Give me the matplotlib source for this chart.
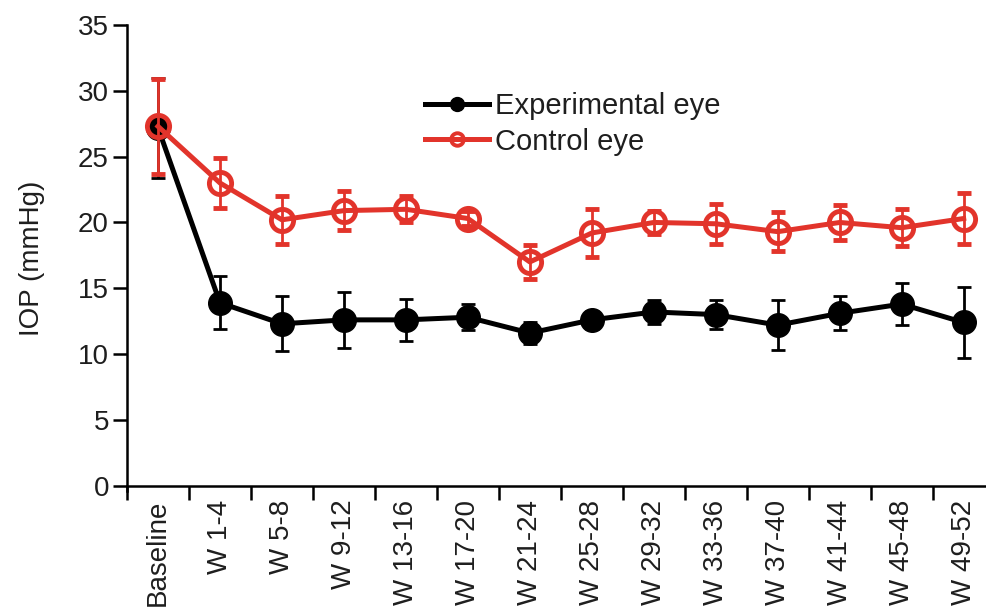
import numpy as np
import matplotlib
matplotlib.use("Agg")
import matplotlib.pyplot as plt
from matplotlib.lines import Line2D

plt.rcParams['font.family'] = ['Liberation Sans', 'DejaVu Sans']

# データ
labels = ["Baseline", "W 1-4", "W 5-8", "W 9-12", "W 13-16", "W 17-20", "W 21-24",
          "W 25-28", "W 29-32", "W 33-36", "W 37-40", "W 41-44", "W 45-48", "W 49-52"]
exp_mean = [27.2, 13.9, 12.3, 12.6, 12.6, 12.8, 11.6, 12.6, 13.2, 13.0, 12.2, 13.1, 13.8, 12.4]
exp_err = [3.8, 2.0, 2.1, 2.1, 1.6, 1.0, 0.8, 0.7, 0.9, 1.1, 1.9, 1.3, 1.6, 2.7]
ctl_mean = [27.3, 23.0, 20.2, 20.9, 21.0, 20.3, 17.0, 19.2, 20.0, 19.9, 19.3, 20.0, 19.6, 20.3]
ctl_err = [3.6, 1.9, 1.8, 1.5, 1.0, 0.6, 1.3, 1.8, 0.9, 1.5, 1.5, 1.3, 1.4, 1.9]

red = "#e2342b"
txt = "#1e1e1e"
fs = 20
x = np.arange(len(labels))

fig = plt.figure(figsize=(9.86, 6.11), dpi=100)
ax = fig.add_axes([0.1288, 0.1964, 0.880, 0.7627])

# 軸の設定（spineの位置を先に決める）
for s in ["top", "right"]:
    ax.spines[s].set_visible(False)
ax.spines["bottom"].set_position(("data", 0))
ax.spines["left"].set_linewidth(1.8)
ax.spines["bottom"].set_linewidth(1.8)

ax.errorbar(x, exp_mean, yerr=exp_err, color="black", lw=3.6, elinewidth=2,
            capsize=5, capthick=2, marker="o", ms=17, mfc="black", mec="black",
            zorder=3)
ax.errorbar(x, ctl_mean, yerr=ctl_err, color=red, lw=3.6, elinewidth=2,
            capsize=5, capthick=2, marker="o", ms=16, mfc="none", mec=red, mew=3.5,
            zorder=4)

ax.set_xlim(-0.5, len(labels) - 0.5)
ax.set_ylim(-0.4, 35)
ax.set_yticks(range(0, 36, 5))
ax.set_xticks(x)
ax.set_xticklabels(labels, rotation=90, fontsize=fs, color=txt)
ax.set_xticks(np.arange(-0.5, len(labels), 1), minor=True)
ax.tick_params(axis="x", which="major", length=0, pad=10)
ax.tick_params(axis="x", which="minor", length=10, width=1.8, direction="out")
ax.tick_params(axis="y", length=10, width=1.8, labelsize=fs, labelcolor=txt, pad=3)
ax.set_ylabel("IOP (mmHg)", fontsize=fs, color=txt, labelpad=24)

# 凡例
handles = [
    Line2D([], [], color="black", lw=3.6, marker="o", ms=10, mfc="black", mec="black"),
    Line2D([], [], color=red, lw=3.6, marker="o", ms=9, mfc="none", mec=red, mew=2.8),
]
leg = ax.legend(handles, ["Experimental eye", "Control eye"], loc="upper left",
                bbox_to_anchor=(0.313, 0.912), frameon=False, fontsize=21,
                handlelength=2.2, handletextpad=0.2, labelspacing=0.25)
for t in leg.get_texts():
    t.set_color(txt)

plt.savefig("out.png", dpi=100)
plt.close()
